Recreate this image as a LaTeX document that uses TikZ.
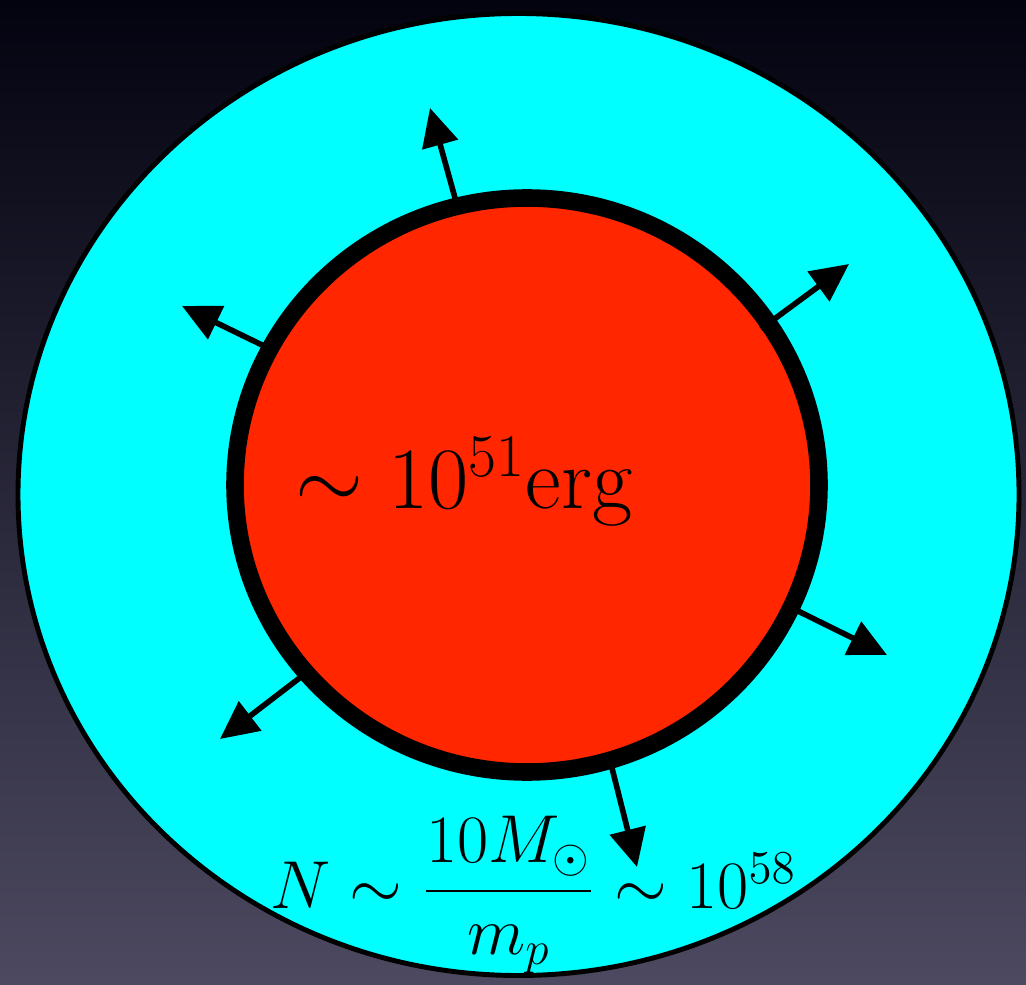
\documentclass[tikz,border=0pt]{standalone}
\usepackage{amsmath}
\usetikzlibrary{arrows.meta,calc}

\definecolor{sfondoalto}{RGB}{3,3,16}
\definecolor{sfondobasso}{RGB}{76,73,96}
\definecolor{guscio}{RGB}{0,255,255}
\definecolor{nucleo}{RGB}{255,38,0}

\tikzset{
  freccia/.style={line width=1.6pt, -{Triangle[length=3.8mm,width=3.6mm]}},
  etichetta/.style={anchor=base west, inner sep=0pt},
}

\begin{document}
\begin{tikzpicture}

    % Sfondo sfumato della slide
    \fill[top color=sfondoalto, bottom color=sfondobasso] (0,0) rectangle (10.26,9.84);
    \useasboundingbox (0,0) rectangle (10.26,9.84);

    % Guscio esterno
    \draw[fill=guscio, line width=1.4pt] (5.185,4.895) ellipse (5.005 and 4.81);

    % Nucleo centrale
    \draw[fill=nucleo, line width=5pt] (5.27,4.99) ellipse (2.92 and 2.87);

    % Punti di partenza e punte delle frecce
    \coordinate (b1) at (4.55,7.86);  \coordinate (p1) at (4.30,8.76);
    \coordinate (b2) at (2.62,6.39);  \coordinate (p2) at (1.82,6.78);
    \coordinate (b3) at (7.73,6.64);  \coordinate (p3) at (8.49,7.20);
    \coordinate (b4) at (8.02,3.71);  \coordinate (p4) at (8.87,3.29);
    \coordinate (b5) at (2.93,3.01);  \coordinate (p5) at (2.20,2.45);
    \coordinate (b6) at (6.15,2.04);  \coordinate (p6) at (6.37,1.17);

    % Frecce uscenti
    \foreach \i in {1,...,6}
        \draw[freccia] ($(b\i)!-1.5mm!(p\i)$) -- (p\i);

    % Testi
    \node[etichetta, font=\fontsize{24}{28}\selectfont] (energia) at (2.95,4.76)
        {$\sim 10^{51}\mathrm{erg}$};
    \node[etichetta, font=\fontsize{18}{22}\selectfont, scale=1.117] (numero) at (2.70,0.76)
        {$N \sim \dfrac{10M_\odot}{m_p} \sim 10^{58}$};

\end{tikzpicture}
\end{document}
